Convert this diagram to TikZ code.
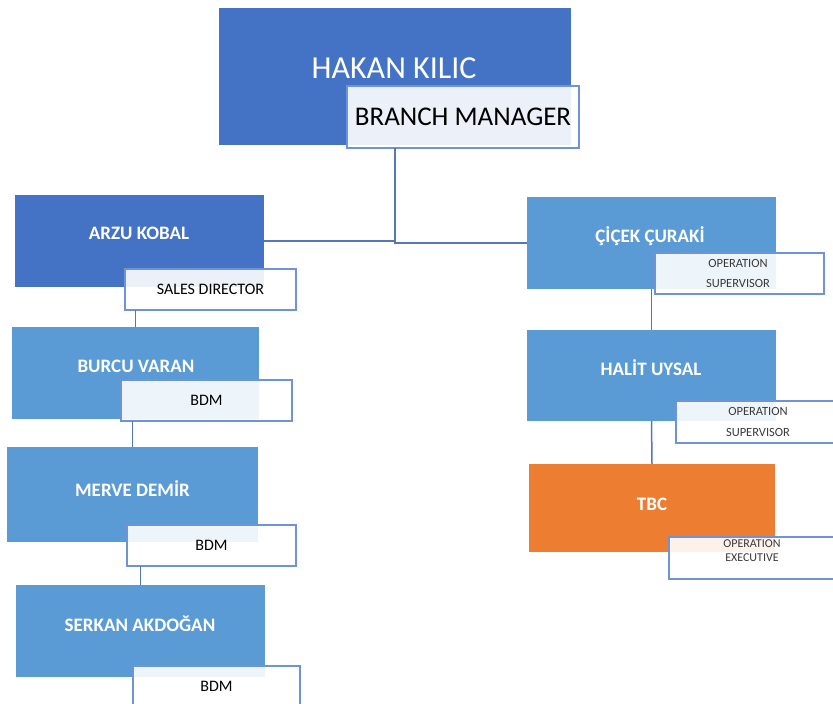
\documentclass[tikz,border=0pt]{standalone}
\usepackage{fontspec}
\setmainfont{Carlito}
\definecolor{dblue}{HTML}{4472C4}
\definecolor{mblue}{HTML}{5B9BD5}
\definecolor{orng}{HTML}{ED7D31}
\definecolor{lblborder}{HTML}{6F93D6}
\definecolor{connc}{HTML}{5577B8}
\definecolor{optc}{HTML}{3A3A3A}
\tikzset{
  orgbox/.style={inner sep=0pt, outer sep=0pt, anchor=center},
  darkbox/.style={orgbox, fill=dblue},
  midbox/.style={orgbox, fill=mblue},
  orangebox/.style={orgbox, fill=orng},
  rolebox/.style={orgbox, fill=white, fill opacity=0.9, text opacity=1, draw=lblborder, line width=1.2pt, text=black},
  nametext/.style={inner sep=0pt, text=white, font=\fontsize{19}{23}\selectfont\bfseries},
  roletext/.style={font=\fontsize{16}{19}\selectfont},
  optext/.style={inner sep=0pt, text=optc, align=center},
  conn/.style={draw=connc, line width=1.5pt},
}
\begin{document}
\begin{tikzpicture}[x=1pt,y=-1pt]
\useasboundingbox (0,0) rectangle (833,704);
\clip (0,0) rectangle (833,704);

% top
\node[darkbox, minimum width=352pt, minimum height=137pt] (top) at (395,76.5) {};
\node[inner sep=0pt, text=white, font=\fontsize{32}{38}\selectfont] (topname) at (394,68) {HAKAN KILIC};
\node[rolebox, minimum width=232pt, minimum height=62pt, font=\fontsize{27}{32}\selectfont] (bm) at (463,117) {BRANCH MANAGER};

% left column
\node[darkbox, minimum width=249pt, minimum height=92pt] (arzu) at (139.5,241) {};
\node[nametext] (arzuname) at (139,233) {ARZU KOBAL};
\node[rolebox, roletext, minimum width=171pt, minimum height=41pt] (sd) at (210.5,289.5) {SALES DIRECTOR};

\node[midbox, minimum width=247pt, minimum height=92pt] (burcu) at (135.5,373) {};
\node[nametext] (burcuname) at (136,366) {BURCU VARAN};
\node[rolebox, roletext, minimum width=171pt, minimum height=41pt] (bdma) at (206.5,400.5) {BDM};

\node[midbox, minimum width=251pt, minimum height=95pt] (merve) at (132.5,494.5) {};
\node[nametext] (mervename) at (132.5,489) {MERVE DEMİR};
\node[rolebox, roletext, minimum width=169pt, minimum height=41pt] (bdmb) at (211.5,545.5) {BDM};

\node[midbox, minimum width=249pt, minimum height=92pt] (serkan) at (140.5,631) {};
\node[nametext] (serkanname) at (140,624) {SERKAN AKDOĞAN};
\node[rolebox, roletext, minimum width=167pt, minimum height=40pt] (bdmc) at (216.5,686) {BDM};

% right column
\node[midbox, minimum width=249pt, minimum height=92pt] (cicek) at (651.5,243) {};
\node[nametext] (cicekname) at (650,236) {ÇİÇEK ÇURAKİ};
\node[rolebox, minimum width=169pt, minimum height=41pt] (osa) at (739.5,273.5) {};
\node[optext, font=\fontsize{12.5}{20}\selectfont] (osatext) at (738,273) {OPERATION\\SUPERVISOR};

\node[midbox, minimum width=249pt, minimum height=91pt] (halit) at (651.5,375.5) {};
\node[nametext] (halitname) at (651,368) {HALİT UYSAL};
\node[rolebox, minimum width=164pt, minimum height=42pt] (osb) at (758,422) {};
\node[optext, font=\fontsize{12.5}{21}\selectfont] (osbtext) at (758,421.5) {OPERATION\\SUPERVISOR};

\node[orangebox, minimum width=246pt, minimum height=88pt] (tbc) at (652,508) {};
\node[nametext] (tbcname) at (652,504) {TBC};
\node[rolebox, minimum width=166pt, minimum height=42pt] (oe) at (752,558) {};
\node[optext, font=\fontsize{12}{14}\selectfont] (oetext) at (752,551) {OPERATION\\EXECUTIVE};

% connectors
\coordinate (bus) at (top.south |- arzu.east);
\draw[conn] (top.south |- bm.south) -- (bus);
\draw[conn] (arzu.east) -- (bus) -- (bus |- cicek.west) -- (cicek.west);
\draw[conn] (burcu.north |- sd.south) -- (burcu.north);
\draw[conn] (merve.north |- bdma.south) -- (merve.north);
\draw[conn] (serkan.north |- bdmb.south) -- (serkan.north);
\draw[conn] (cicek.south) -- (halit.north);
\draw[conn] (halit.south) -- (tbc.north);
\end{tikzpicture}
\end{document}
